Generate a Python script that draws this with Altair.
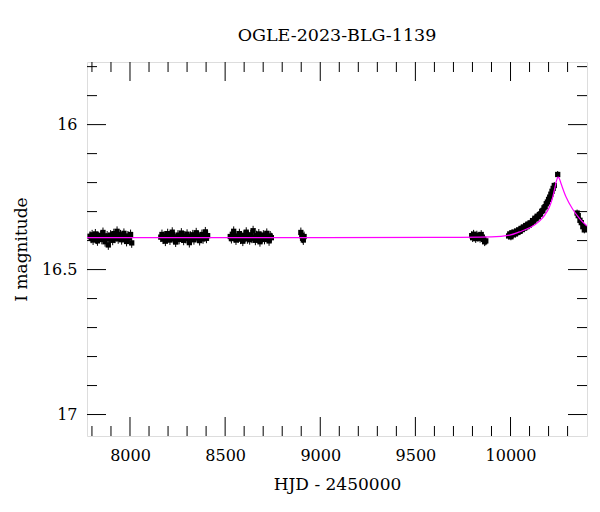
import altair as alt
import pandas as pd

# ---------------- data ----------------
s1_hjd = [7790, 7796, 7801, 7806, 7812, 7818, 7823, 7829, 7835, 7840,
          7846, 7852, 7858, 7863, 7869, 7875, 7880, 7886, 7892, 7898,
          7903, 7909, 7915, 7921, 7926, 7932, 7938, 7944, 7950, 7956,
          7962, 7968, 7975, 7982, 7989, 7996, 8003, 8009]
s1_mag = [16.385, 16.392, 16.380, 16.398, 16.388, 16.377, 16.395, 16.401, 16.386, 16.390,
          16.383, 16.396, 16.372, 16.389, 16.404, 16.391, 16.384, 16.415, 16.393, 16.381,
          16.388, 16.399, 16.376, 16.392, 16.386, 16.368, 16.394, 16.387, 16.380, 16.397,
          16.389, 16.375, 16.392, 16.403, 16.384, 16.391, 16.379, 16.408]
s1_err = 0.017

s2_hjd = [8162, 8168, 8174, 8180, 8186, 8192, 8198, 8204, 8210, 8216,
          8222, 8228, 8234, 8240, 8246, 8252, 8258, 8264, 8270, 8276,
          8282, 8288, 8294, 8300, 8306, 8312, 8318, 8324, 8330, 8336,
          8342, 8348, 8354, 8360, 8366, 8372, 8378, 8384, 8390, 8396,
          8402, 8408]
s2_mag = [16.388, 16.379, 16.395, 16.384, 16.402, 16.391, 16.376, 16.389, 16.398, 16.383,
          16.371, 16.394, 16.387, 16.405, 16.392, 16.381, 16.396, 16.386, 16.374, 16.390,
          16.399, 16.384, 16.393, 16.378, 16.388, 16.407, 16.385, 16.392, 16.380, 16.397,
          16.389, 16.373, 16.391, 16.384, 16.400, 16.388, 16.379, 16.394, 16.386, 16.370,
          16.392, 16.383]
s2_err = 0.017

s3_hjd = [8527, 8533, 8539, 8545, 8551, 8557, 8563, 8569, 8575, 8581,
          8587, 8593, 8599, 8605, 8611, 8617, 8623, 8629, 8635, 8641,
          8647, 8653, 8659, 8665, 8671, 8677, 8683, 8689, 8695, 8701,
          8707, 8713, 8719, 8725, 8731, 8737, 8743]
s3_mag = [16.386, 16.393, 16.379, 16.368, 16.390, 16.398, 16.384, 16.391, 16.376, 16.395,
          16.387, 16.402, 16.382, 16.389, 16.371, 16.394, 16.385, 16.397, 16.380, 16.392,
          16.366, 16.388, 16.399, 16.383, 16.390, 16.377, 16.404, 16.386, 16.393, 16.381,
          16.396, 16.388, 16.375, 16.392, 16.401, 16.384, 16.390]
s3_err = 0.017

s4_hjd = [8898, 8903, 8907, 8911, 8915]
s4_mag = [16.372, 16.383, 16.392, 16.398, 16.386]
s4_err = 0.017

s5_hjd = [9796, 9801, 9806, 9812, 9817, 9823, 9829, 9834, 9840, 9846, 9852, 9858, 9864, 9870]
s5_mag = [16.383, 16.390, 16.378, 16.387, 16.393, 16.381, 16.389, 16.385, 16.392, 16.379,
          16.388, 16.396, 16.404, 16.401]
s5_err = 0.015

s6_hjd = [9990, 9996, 10002, 10008, 10014, 10020, 10026, 10032, 10038, 10044,
          10050, 10056, 10062, 10068, 10074, 10080, 10086, 10092, 10098, 10104,
          10110, 10116, 10122, 10128, 10134, 10140, 10146, 10152, 10158, 10164,
          10170, 10176, 10182, 10188, 10194, 10200, 10206, 10212, 10218, 10224,
          10230, 10248]
s6_mag = [16.384, 16.377, 16.387, 16.373, 16.380, 16.371, 16.377, 16.367, 16.372, 16.363,
          16.368, 16.358, 16.362, 16.353, 16.357, 16.348, 16.352, 16.343, 16.347, 16.339,
          16.340, 16.331, 16.333, 16.323, 16.325, 16.316, 16.318, 16.310, 16.308, 16.299,
          16.296, 16.287, 16.283, 16.273, 16.267, 16.258, 16.250, 16.240, 16.230, 16.220,
          16.210, 16.172]
s6_err = 0.012

s7_hjd = [10350, 10356, 10365, 10372, 10380, 10388, 10393]
s7_mag = [16.305, 16.314, 16.330, 16.338, 16.352, 16.363, 16.357]
s7_err = 0.012

model_hjd = [7774, 9000, 9600, 9900, 9995, 10047, 10100, 10152, 10180, 10205,
             10222, 10235, 10241, 10246, 10250, 10254, 10259, 10266, 10292, 10327,
             10362, 10402]
model_mag = [16.390, 16.390, 16.389, 16.387, 16.381, 16.370, 16.356, 16.333, 16.312, 16.283,
             16.250, 16.212, 16.195, 16.185, 16.181, 16.183, 16.190, 16.204, 16.250, 16.292,
             16.323, 16.350]

x_major = [8000, 8500, 9000, 9500, 10000]
x_minor = [7800, 7900, 8100, 8200, 8300, 8400, 8600, 8700, 8800, 8900, 9100, 9200,
           9300, 9400, 9600, 9700, 9800, 9900, 10100, 10200, 10300]
y_major = [16.0, 16.5, 17.0]
y_minor = [15.8, 15.9, 16.1, 16.2, 16.3, 16.4, 16.6, 16.7, 16.8, 16.9]

x_domain = [7774, 10402]
y_domain = [15.784, 17.074]

# ---------------- table ----------------
seasons = [(s1_hjd, s1_mag, s1_err), (s2_hjd, s2_mag, s2_err), (s3_hjd, s3_mag, s3_err),
           (s4_hjd, s4_mag, s4_err), (s5_hjd, s5_mag, s5_err), (s6_hjd, s6_mag, s6_err),
           (s7_hjd, s7_mag, s7_err)]
rows = []
for h, m, e in seasons:
    for hh, mm in zip(h, m):
        rows.append({"hjd": hh, "mag": mm, "lo": mm - e, "hi": mm + e})
obs = pd.DataFrame(rows)
model = pd.DataFrame({"hjd": model_hjd, "mag": model_mag})

W, H = 500, 374
FONT = "DejaVu Serif"

xs = alt.Scale(domain=x_domain, nice=False, zero=False)
ys = alt.Scale(domain=y_domain, nice=False, zero=False, reverse=True)

x_axis = alt.Axis(values=x_major, format="d", ticks=False, domain=False, grid=False,
                  labelFont=FONT, labelFontSize=16, labelColor="black", labelPadding=11,
                  title="HJD - 2450000", titleFont=FONT, titleFontSize=17,
                  titleFontWeight="normal", titleColor="black", titlePadding=13)
y_axis = alt.Axis(values=y_major, format=".3~g", ticks=False, domain=False, grid=False,
                  labelFont=FONT, labelFontSize=16, labelColor="black", labelPadding=10,
                  title="I magnitude", titleFont=FONT, titleFontSize=17,
                  titleFontWeight="normal", titleColor="black", titlePadding=11)

base = alt.Chart(obs)
bars = base.mark_rule(color="black", strokeWidth=1, clip=True).encode(
    x=alt.X("hjd:Q", scale=xs, axis=x_axis),
    y=alt.Y("lo:Q", scale=ys, axis=y_axis),
    y2="hi:Q",
)
pts = base.mark_square(size=28, color="black", opacity=1, clip=True).encode(
    x=alt.X("hjd:Q", scale=xs, axis=x_axis),
    y=alt.Y("mag:Q", scale=ys, axis=y_axis),
)
line = alt.Chart(model).mark_line(color="#ff00ff", strokeWidth=1.2, interpolate="monotone",
                                  clip=True).encode(
    x=alt.X("hjd:Q", scale=xs, axis=x_axis),
    y=alt.Y("mag:Q", scale=ys, axis=y_axis),
)


def xticks(vals, length):
    d = alt.Chart(pd.DataFrame({"hjd": vals}))
    bot = d.mark_rule(color="black", strokeWidth=1).encode(
        x=alt.X("hjd:Q", scale=xs, axis=x_axis), y=alt.value(H), y2=alt.value(H - length))
    top = d.mark_rule(color="black", strokeWidth=1).encode(
        x=alt.X("hjd:Q", scale=xs, axis=x_axis), y=alt.value(0), y2=alt.value(length))
    return [bot, top]


def yticks(vals, length):
    d = alt.Chart(pd.DataFrame({"mag": vals}))
    left = d.mark_rule(color="black", strokeWidth=1).encode(
        y=alt.Y("mag:Q", scale=ys, axis=y_axis), x=alt.value(0), x2=alt.value(length))
    right = d.mark_rule(color="black", strokeWidth=1).encode(
        y=alt.Y("mag:Q", scale=ys, axis=y_axis), x=alt.value(W), x2=alt.value(W - length))
    return [left, right]


layers = [bars, pts, line] + xticks(x_minor, 10) + xticks(x_major, 19) \
    + yticks(y_minor, 10) + yticks(y_major, 19)

chart = alt.layer(*layers).properties(
    width=W, height=H,
    title=alt.TitleParams("OGLE-2023-BLG-1139", font=FONT, fontSize=17.5,
                          fontWeight="normal", color="black", anchor="middle", offset=17),
    padding={"left": 79, "top": 54, "right": 5, "bottom": 70},
    autosize=alt.AutoSizeParams(type="none"),
).configure_view(stroke="black", strokeWidth=1.2).configure(background="white")

chart.save("out.html", embed_options={"renderer": "svg", "actions": False})
